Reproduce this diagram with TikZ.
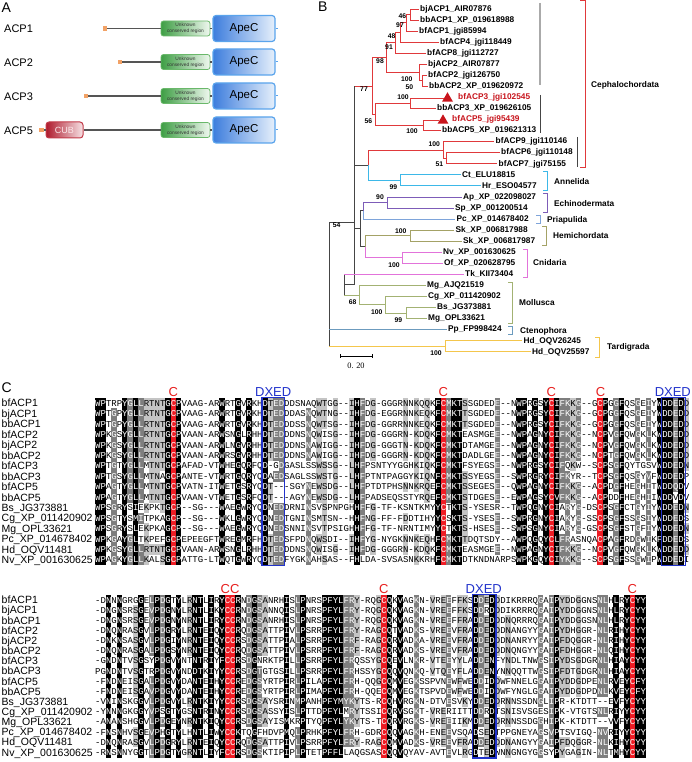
\documentclass[tikz,border=0pt]{standalone}
\usepackage{fontspec}
\setmainfont{Liberation Sans}
\newfontfamily\seqfont{Liberation Mono}
\newfontfamily\serfont{Liberation Serif}
\usetikzlibrary{shapes.geometric,shadings}

\definecolor{cephred}{HTML}{E0393B}
\definecolor{trired}{HTML}{C8141C}
\definecolor{annc}{HTML}{3DB8E8}
\definecolor{echc}{HTML}{7D5CB8}
\definecolor{pric}{HTML}{7EA4DA}
\definecolor{hemc}{HTML}{A4A266}
\definecolor{cnic}{HTML}{E273DA}
\definecolor{molc}{HTML}{A3B273}
\definecolor{ctec}{HTML}{6C9BBE}
\definecolor{tarc}{HTML}{F4C64C}
\definecolor{bbc}{HTML}{454545}
\definecolor{grayline}{HTML}{AAAAAA}
\definecolor{shadeA}{HTML}{C4C4C4}
\definecolor{shadeB}{HTML}{7E7E7E}
\definecolor{shadeR}{HTML}{EE1C24}
\definecolor{dxblue}{HTML}{2233CC}
\definecolor{credl}{HTML}{E8201F}
\definecolor{apeL}{HTML}{3D7DDD}
\definecolor{apeR}{HTML}{E6F0FB}
\definecolor{apeB}{HTML}{5AA4EC}
\definecolor{grnL}{HTML}{3E9E44}
\definecolor{grnR}{HTML}{F0F8F0}
\definecolor{grnB}{HTML}{6AB86A}
\definecolor{cubL}{HTML}{AE1A2C}
\definecolor{cubR}{HTML}{F7E2E5}
\definecolor{cubB}{HTML}{C23A48}
\definecolor{cubT}{HTML}{FBE9EB}
\definecolor{orng}{HTML}{F2A266}
\definecolor{linec}{HTML}{555555}

\newcommand\alnh{10}
\newcommand\alncell[3]{\fill[#3] (#1,#2) rectangle ++(5.45,\alnh+0.1);}
\newcommand\alntext[3]{\node[seqtext] (#2) at (95,#1+\alnh/2+3) {#3};}

\ExplSyntaxOn
\intarray_new:Nn \g__aln_chars_intarray {2300}
\intarray_new:Nn \g__aln_mchar_intarray {140}
\intarray_new:Nn \g__aln_mcnt_intarray {140}
\intarray_new:Nn \g__aln_red_intarray {140}
\int_new:N \g__aln_nrows_int
\int_new:N \g__aln_len_int
\int_new:N \l__aln_j_int
\int_new:N \l__aln_k_int
\int_new:N \l__aln_cnt_int
\int_new:N \l__aln_best_int
\int_new:N \l__aln_bestc_int
\int_new:N \l__aln_lvl_int
\int_new:N \l__aln_row_int
\tl_new:N \l__aln_row_tl
\tl_new:N \l__aln_prefix_tl
\seq_new:N \g__aln_rows_seq

\cs_new:Npn \__aln_idx:nn #1#2 { ( ( #1 ) - 1 ) * 140 + ( #2 ) }
\cs_new:Npn \__aln_grp:n #1
  {
    \int_case:nnF { #1 }
      {
        { `N } { `D }
        { `Q } { `E }
        { `T } { `S }
        { `R } { `K }
        { `Y } { `F }
        { `W } { `F }
        { `I } { `L }
        { `V } { `L }
        { `M } { `L }
      }
      { #1 }
  }

\cs_new_protected:Npn \__aln_store:n #1
  {
    \int_gincr:N \g__aln_nrows_int
    \int_zero:N \l__aln_j_int
    \tl_map_inline:nn {#1}
      {
        \int_incr:N \l__aln_j_int
        \intarray_gset:Nnn \g__aln_chars_intarray
          { \__aln_idx:nn { \g__aln_nrows_int } { \l__aln_j_int } } { \__aln_grp:n { `##1 } }
      }
    \int_compare:nNnT { \l__aln_j_int } > { \g__aln_len_int }
      { \int_gset_eq:NN \g__aln_len_int \l__aln_j_int }
  }

\cs_new_protected:Npn \__aln_mode:n #1
  {
    \int_zero:N \l__aln_best_int
    \int_zero:N \l__aln_bestc_int
    \int_step_inline:nn { \g__aln_nrows_int }
      {
        \int_set:Nn \l__aln_k_int
          { \intarray_item:Nn \g__aln_chars_intarray { \__aln_idx:nn {##1} {#1} } }
        \bool_lazy_or:nnF
          { \int_compare_p:nNn { \l__aln_k_int } = { `- } }
          { \int_compare_p:nNn { \l__aln_k_int } = { 0 } }
          {
            \int_zero:N \l__aln_cnt_int
            \int_step_inline:nn { \g__aln_nrows_int }
              {
                \int_compare:nNnT
                  { \intarray_item:Nn \g__aln_chars_intarray { \__aln_idx:nn {####1} {#1} } }
                  = { \l__aln_k_int }
                  { \int_incr:N \l__aln_cnt_int }
              }
            \int_compare:nNnT { \l__aln_cnt_int } > { \l__aln_best_int }
              {
                \int_set_eq:NN \l__aln_best_int \l__aln_cnt_int
                \int_set_eq:NN \l__aln_bestc_int \l__aln_k_int
              }
          }
      }
    \intarray_gset:Nnn \g__aln_mchar_intarray {#1} { \l__aln_bestc_int }
    \intarray_gset:Nnn \g__aln_mcnt_intarray {#1} { \l__aln_best_int }
  }

\cs_new_protected:Npn \__aln_level:nn #1#2
  {
    \int_set:Nn \l__aln_k_int
      { \intarray_item:Nn \g__aln_chars_intarray { \__aln_idx:nn {#1} {#2} } }
    \int_zero:N \l__aln_lvl_int
    \int_compare:nNnTF { \intarray_item:Nn \g__aln_red_intarray {#2} } = { 1 }
      { \int_set:Nn \l__aln_lvl_int { 4 } }
      {
        \int_compare:nNnT { \l__aln_k_int } = { \intarray_item:Nn \g__aln_mchar_intarray {#2} }
          {
            \int_set:Nn \l__aln_cnt_int { \intarray_item:Nn \g__aln_mcnt_intarray {#2} }
            \int_compare:nNnTF { \l__aln_cnt_int } = { \g__aln_nrows_int }
              { \int_set:Nn \l__aln_lvl_int { 3 } }
              {
                \int_compare:nNnTF { 5 * \l__aln_cnt_int } < { 4 * \g__aln_nrows_int }
                  {
                    \int_compare:nNnF { 5 * \l__aln_cnt_int } < { 3 * \g__aln_nrows_int }
                      { \int_set:Nn \l__aln_lvl_int { 1 } }
                  }
                  { \int_set:Nn \l__aln_lvl_int { 2 } }
              }
          }
      }
  }

\cs_new_protected:Npn \__aln_row:nnn #1#2#3
  {
    \tl_clear:N \l__aln_row_tl
    \int_zero:N \l__aln_j_int
    \tl_map_inline:nn {#3}
      {
        \int_incr:N \l__aln_j_int
        \__aln_level:nn {#1} { \l__aln_j_int }
        \int_compare:nNnTF { \l__aln_lvl_int } > { 0 }
          {
            \use:e
              {
                \exp_not:N \alncell
                  { \fp_eval:n { 95 + 5.4 * ( \l__aln_j_int - 1 ) } }
                  { \fp_eval:n {#2} }
                  {
                    \int_case:nn { \l__aln_lvl_int }
                      { {1}{shadeA} {2}{shadeB} {3}{black} {4}{shadeR} }
                  }
              }
            \int_compare:nNnTF { \l__aln_lvl_int } > { 1 }
              { \tl_put_right:Nn \l__aln_row_tl { \textcolor{white}{##1} } }
              { \tl_put_right:Nn \l__aln_row_tl {##1} }
          }
          { \tl_put_right:Nn \l__aln_row_tl {##1} }
      }
    \use:e
      {
        \exp_not:N \alntext { \fp_eval:n {#2} }
          { \l__aln_prefix_tl \int_use:N \l__aln_row_int }
      }
      { \l__aln_row_tl }
  }

\cs_new_protected:Npn \aln_block:nnnnn #1#2#3#4#5
  {
    \intarray_gzero:N \g__aln_chars_intarray
    \intarray_gzero:N \g__aln_red_intarray
    \int_gzero:N \g__aln_nrows_int
    \int_gzero:N \g__aln_len_int
    \tl_set:Nn \l__aln_prefix_tl {#4}
    \clist_map_inline:nn {#3} { \intarray_gset:Nnn \g__aln_red_intarray {##1} { 1 } }
    \seq_gset_from_clist:Nn \g__aln_rows_seq {#5}
    \seq_map_function:NN \g__aln_rows_seq \__aln_store:n
    \int_step_function:nN { \g__aln_len_int } \__aln_mode:n
    \int_zero:N \l__aln_row_int
    \seq_map_inline:Nn \g__aln_rows_seq
      {
        \int_incr:N \l__aln_row_int
        \__aln_row:nnn
          { \int_use:N \l__aln_row_int }
          { \fp_eval:n { #1 + ( \l__aln_row_int - 1 ) * #2 } }
          {##1}
      }
  }
\cs_new_eq:NN \alnblock \aln_block:nnnnn
\ExplSyntaxOff

\tikzset{
  plab/.style={anchor=west, inner sep=0, font=\fontsize{14}{14}\selectfont},
  acpl/.style={anchor=west, inner sep=0, font=\fontsize{11}{11}\selectfont},
  apec/.style={draw=apeB, line width=1.2pt, rounded corners=3pt, left color=apeL, right color=apeR,
    minimum width=62pt, minimum height=26pt, inner sep=0, font=\fontsize{11.5}{11.5}\selectfont},
  ucr/.style={draw=grnB, line width=0.8pt, rounded corners=2.5pt, left color=grnL, right color=grnR,
    minimum width=49pt, minimum height=15pt, inner sep=0, align=center,
    font=\fontsize{4.8}{5.6}\selectfont, text=black!80},
  cubbox/.style={draw=cubB, line width=1pt, rounded corners=3pt, left color=cubL, right color=cubR,
    minimum width=37pt, minimum height=16pt, inner sep=0, font=\fontsize{9}{9}\selectfont, text=cubT},
  nterm/.style={fill=orng, minimum size=4.5pt, inner sep=0},
  dline/.style={draw=linec, line width=1.3pt},
  leaf/.style={anchor=west, inner xsep=1.5pt, inner ysep=0, font=\bfseries\fontsize{8.3}{8.3}\selectfont,
    text height=6pt, text depth=1.6pt},
  rleaf/.style={leaf, text=trired},
  tri/.style={regular polygon, regular polygon sides=3, fill=trired, minimum size=12.5pt, inner sep=0, outer sep=0},
  bs/.style={inner sep=0, font=\bfseries\fontsize{6.8}{6.8}\selectfont},
  clab/.style={anchor=west, inner sep=0, font=\bfseries\fontsize{8.3}{8.3}\selectfont},
  tline/.style={line width=0.95pt},
  rl/.style={tline, draw=cephred},
  al/.style={tline, draw=annc},
  el/.style={tline, draw=echc},
  pl/.style={tline, draw=pric},
  hl/.style={tline, draw=hemc},
  cl/.style={tline, draw=cnic},
  ml/.style={tline, draw=molc},
  ctl/.style={tline, draw=ctec},
  tal/.style={tline, draw=tarc},
  bl/.style={tline, draw=bbc},
  brk/.style={line width=1pt},
  seqtext/.style={anchor=base west, inner sep=0, font=\seqfont\fontsize{9}{9}\selectfont},
  nm/.style={anchor=base west, inner sep=0, font=\fontsize{10.5}{10.5}\selectfont},
  motc/.style={anchor=base, inner sep=0, font=\fontsize{13}{13}\selectfont, text=credl},
  motd/.style={anchor=base, inner sep=0, font=\fontsize{13}{13}\selectfont, text=dxblue},
  dxbox/.style={draw=dxblue, line width=1.3pt},
}

\begin{document}
\begin{tikzpicture}[x=1pt,y=-1pt]
\useasboundingbox (0,0) rectangle (692,762);
\fill[white] (0,0) rectangle (692,762);

% ---------------- Panel A ----------------
\node[plab] (labA) at (1.5,8) {A};
\node[acpl] (a1) at (4,29) {ACP1};
\node[acpl] (a2) at (4,63) {ACP2};
\node[acpl] (a3) at (4,97) {ACP3};
\node[acpl] (a4) at (4,131) {ACP5};

\node[nterm] (s1) at (105,28.5) {};
\node[nterm] (s2) at (120,62) {};
\node[nterm] (s3) at (86,96) {};
\node[nterm] (s4) at (41.5,130) {};
\node[cubbox] (c4) at (64.5,130) {CUB};

\foreach \i/\y in {1/28.5,2/62,3/96,4/130}{
  \node[ucr] (u\i) at (185.5,\y) {Unknown\\conserved region};
  \node[apec] (p\i) at (244,\y) {ApeC};
  \coordinate (e\i) at (278,\y);
}
\draw[dline] (s1) -- (u1);
\draw[dline] (s2) -- (u2);
\draw[dline] (s3) -- (u3);
\draw[dline] (s4) -- (c4);
\draw[dline] (c4) -- (u4);
\foreach \i in {1,2,3,4}{
  \draw[dline] (u\i) -- (p\i);
  \draw[dline, line width=1pt, draw=apeB] (p\i) -- (e\i);
}

% ---------------- Panel B ----------------
\node[plab] (labB) at (318,7) {B};

\node[leaf] (L0) at (418.5,9) {bjACP1\_AIR07876};
\node[leaf] (L1) at (418.5,20.06) {bbACP1\_XP\_019618988};
\node[leaf] (L2) at (417.5,31.12) {bfACP1\_jgi85994};
\node[leaf] (L3) at (438.5,42.18) {bfACP4\_jgi118449};
\node[leaf] (L4) at (425.5,53.24) {bfACP8\_jgi112727};
\node[leaf] (L5) at (426.5,64.3) {bjACP2\_AIR07877};
\node[leaf] (L6) at (426.5,75.36) {bfACP2\_jgi126750};
\node[leaf] (L7) at (427.5,86.42) {bbACP2\_XP\_019620972};
\node[tri] (T8) at (447.5,98.5) {};
\node[rleaf] (L8) at (456.5,97.48) {bfACP3\_jgi102545};
\node[leaf] (L9) at (435.5,108.54) {bbACP3\_XP\_019626105};
\node[tri] (T10) at (443,120.6) {};
\node[rleaf] (L10) at (450.5,119.6) {bfACP5\_jgi95439};
\node[leaf] (L11) at (440.5,130.66) {bbACP5\_XP\_019621313};
\node[leaf] (L12) at (494,141.72) {bfACP9\_jgi110146};
\node[leaf] (L13) at (499.5,152.78) {bfACP6\_jgi110148};
\node[leaf] (L14) at (497,163.84) {bfACP7\_jgi75155};
\node[leaf] (L15) at (460.5,174.9) {Ct\_ELU18815};
\node[leaf] (L16) at (480.5,185.96) {Hr\_ESO04577};
\node[leaf] (L17) at (461.5,197.02) {Ap\_XP\_022098027};
\node[leaf] (L18) at (453.5,208.08) {Sp\_XP\_001200514};
\node[leaf] (L19) at (455,219.14) {Pc\_XP\_014678402};
\node[leaf] (L20) at (454,230.2) {Sk\_XP\_006817988};
\node[leaf] (L21) at (461.5,241.26) {Sk\_XP\_006817987};
\node[leaf] (L22) at (441.5,252.32) {Nv\_XP\_001630625};
\node[leaf] (L23) at (442.5,263.38) {Of\_XP\_020628795};
\node[leaf] (L24) at (463.5,274.44) {Tk\_KII73404};
\node[leaf] (L25) at (425.5,285.5) {Mg\_AJQ21519};
\node[leaf] (L26) at (426.5,296.56) {Cg\_XP\_011420902};
\node[leaf] (L27) at (435.5,307.62) {Bs\_JG373881};
\node[leaf] (L28) at (426.5,318.68) {Mg\_OPL33621};
\node[leaf] (L29) at (446.5,329.74) {Pp\_FP998424};
\node[leaf] (L30) at (522,340.8) {Hd\_OQV26245};
\node[leaf] (L31) at (530.5,351.86) {Hd\_OQV25597};

\coordinate (n46) at (410,14.53);
\coordinate (n97) at (406,22.8);
\coordinate (n48) at (400,32.5);
\coordinate (n91) at (395,42.9);
\coordinate (nA2b) at (422,80.9);
\coordinate (nA2) at (419,72.6);
\coordinate (n98) at (386.7,57.7);
\coordinate (n3) at (410,103.5);
\coordinate (n5) at (423,125.6);
\coordinate (n56) at (375,114.5);
\coordinate (n77) at (372,86.1);
\coordinate (n51) at (446.7,158.3);
\coordinate (n9) at (443,150);
\coordinate (nAnn) at (400,180.4);
\coordinate (nX) at (368,165.2);
\coordinate (n90) at (387,202.5);
\coordinate (nEP) at (363.3,210.8);
\coordinate (nSk) at (410,235.7);
\coordinate (nCn) at (402.7,257.85);
\coordinate (nHC) at (365,246.8);
\coordinate (nDeut) at (360,228.8);
\coordinate (n99) at (406,313.15);
\coordinate (n100m) at (385,304.9);
\coordinate (n68) at (359,295.2);
\coordinate (nTMt) at (344,274.44);
\coordinate (nTM) at (344,284.8);
\coordinate (nTMb) at (344,295.2);
\coordinate (nHd) at (445,346.3);
\coordinate (bbTop) at (354,86.1);
\coordinate (bbX) at (354,165.2);
\coordinate (bbR) at (354,222);
\coordinate (bbD) at (354,228.8);
\coordinate (bbBot) at (354,284.8);
\coordinate (rTop) at (329,222);
\coordinate (rPp) at (329,329.74);
\coordinate (rBot) at (329,346.3);

% cephalochordata
\draw[rl] (n46) |- (L0.west);
\draw[rl] (n46) |- (L1.west);
\draw[rl] (n97) |- (n46);
\draw[rl] (n97) |- (L2.west);
\draw[rl] (n48) |- (n97);
\draw[rl] (n48) |- (L3.west);
\draw[rl] (n91) |- (n48);
\draw[rl] (n91) |- (L4.west);
\draw[rl] (nA2b) |- (L6.west);
\draw[rl] (nA2b) |- (L7.west);
\draw[rl] (nA2) |- (L5.west);
\draw[rl] (nA2) |- (nA2b);
\draw[rl] (n98) |- (n91);
\draw[rl] (n98) |- (nA2);
\draw[rl] (n3) |- (T8.west);
\draw[rl] (n3) |- (L9.west);
\draw[rl] (n5) |- (T10.west);
\draw[rl] (n5) |- (L11.west);
\draw[rl] (n56) |- (n3);
\draw[rl] (n56) |- (n5);
\draw[rl] (n77) |- (n98);
\draw[rl] (n77) |- (n56);
\draw[rl] (bbTop) -- (n77);
\draw[rl] (n51) |- (L13.west);
\draw[rl] (n51) |- (L14.west);
\draw[rl] (n9) |- (L12.west);
\draw[rl] (n9) |- (n51);
\draw[rl] (nX) |- (n9);
% annelida
\draw[al] (nX) |- (nAnn);
\draw[al] (nAnn) |- (L15.west);
\draw[al] (nAnn) |- (L16.west);
\draw[bl] (bbX) -- (nX);
% echinodermata, priapulida
\draw[el] (n90) |- (L17.west);
\draw[el] (n90) |- (L18.west);
\draw[el] (nEP) |- (n90);
\draw[pl] (nEP) |- (L19.west);
% hemichordata, cnidaria
\draw[hl] (nSk) |- (L20.west);
\draw[hl] (nSk) |- (L21.west);
\draw[hl] (nHC) |- (nSk);
\draw[cl] (nCn) |- (L22.west);
\draw[cl] (nCn) |- (L23.west);
\draw[cl] (nHC) |- (nCn);
\draw[bl] (nDeut) |- (nEP);
\draw[bl] (nDeut) |- (nHC);
\draw[bl] (bbD) -- (nDeut);
% backbone
\draw[bl] (bbTop) -- (bbBot);
\draw[bl] (rTop) -- (bbR);
\draw[bl] (bbBot) -- (nTM);
\draw[bl] (nTMt) -- (nTMb);
\draw[cl] (nTMt) -- (L24.west);
\draw[ml] (nTMb) -- (n68);
% mollusca
\draw[ml] (n68) |- (L25.west);
\draw[ml] (n68) |- (n100m);
\draw[ml] (n100m) |- (L26.west);
\draw[ml] (n100m) |- (n99);
\draw[ml] (n99) |- (L27.west);
\draw[ml] (n99) |- (L28.west);
% root
\draw[bl] (rTop) -- (rBot);
\draw[ctl] (rPp) -- (L29.west);
\draw[tal] (rBot) -- (nHd);
\draw[tal] (nHd) |- (L30.west);
\draw[tal] (nHd) |- (L31.west);

% bootstrap values
\node[bs] (b1) at (402.3,16) {46};
\node[bs] (b2) at (400,25) {97};
\node[bs] (b3) at (391.7,36) {48};
\node[bs] (b4) at (389,46.7) {91};
\node[bs] (b5) at (380,60.7) {98};
\node[bs] (b6) at (406.7,79.3) {100};
\node[bs] (b7) at (409.3,87.3) {50};
\node[bs] (b8) at (364,89.3) {77};
\node[bs] (b9) at (403,97.3) {100};
\node[bs] (b10) at (368.3,120.7) {56};
\node[bs] (b11) at (412,131.5) {100};
\node[bs] (b12) at (434.3,144.3) {100};
\node[bs] (b13) at (439.3,164.3) {51};
\node[bs] (b14) at (393.3,186.7) {99};
\node[bs] (b15) at (380,197.3) {90};
\node[bs] (b16) at (336.7,225) {54};
\node[bs] (b17) at (400.7,230.7) {100};
\node[bs] (b18) at (394,264.7) {100};
\node[bs] (b19) at (352.7,301.7) {68};
\node[bs] (b20) at (376.7,311.7) {100};
\node[bs] (b21) at (398.3,320) {99};
\node[bs] (b22) at (436,353.3) {100};

% brackets
\draw[grayline, line width=1.6pt] (540,3) -- (540,85);
\draw[bbc, brk] (540,95) -- (540,133);
\draw[bbc, brk] (577,137) -- (577,167);
\draw[cephred, brk] (580,0.8) -- (585,0.8) -- (585,168) -- (580,168);
\node[clab] (k1) at (591,85.5) {Cephalochordata};
\draw[annc, brk] (543,171.5) -- (547,171.5) -- (547,190) -- (543,190);
\node[clab] (k2) at (554,181.5) {Annelida};
\draw[echc, brk] (543,193.5) -- (547,193.5) -- (547,212) -- (543,212);
\node[clab] (k3) at (554,203.5) {Echinodermata};
\draw[pric, brk] (536,215) -- (540,215) -- (540,223) -- (536,223);
\node[clab] (k4) at (547,220) {Priapulida};
\draw[hemc, brk] (542,226) -- (546,226) -- (546,245) -- (542,245);
\node[clab] (k5) at (553,236) {Hemichordata};
\draw[cnic, brk] (523,249) -- (527,249) -- (527,277) -- (523,277);
\node[clab] (k6) at (533,263) {Cnidaria};
\draw[molc, brk] (508,282) -- (512,282) -- (512,323) -- (508,323);
\node[clab] (k7) at (519,303) {Mollusca};
\draw[ctec, brk] (508,326) -- (512,326) -- (512,334) -- (508,334);
\node[clab] (k8) at (520,331) {Ctenophora};
\draw[tarc, brk] (595,337) -- (599,337) -- (599,357) -- (595,357);
\node[clab] (k9) at (607,347) {Tardigrada};

% scale bar
\coordinate (sb1) at (340,356);
\coordinate (sb2) at (372.3,356);
\draw[line width=1pt] (sb1) -- (sb2);
\draw[line width=0.8pt] ([yshift=1.8pt]sb1) -- ([yshift=-1.8pt]sb1);
\draw[line width=0.8pt] ([yshift=1.8pt]sb2) -- ([yshift=-1.8pt]sb2);
\node[inner sep=0, font=\serfont\fontsize{8.3}{8.3}\selectfont] (sbl) at (356,366) {0. 20};

% ---------------- Panel C ----------------
\node[plab] (labC) at (1.5,388) {C};

\renewcommand\alnh{10.45}
\alnblock{398}{10.45}{15,65,85,94}{sA}{
WPTRPYGLLRTNTGCPVAAG-ARWRTGVRKHDTEDDDSNAQWTGG--IHFDG-GGGRNNKQQKFCMKTSSGDEDE--NWPRGSYCIFKKG--GCPGGFQSGEIYWDDEDD,
WPTGPYGLLRTNTGCPVAAG-ARWRTGVRKHDTEDDDASNQWTNG--IHFDG-EGGRNNKEQKFCMKTTSGDEDE--NWPRGSYCIFKKG--GCPGGFQSGEIYWDDEDD,
WPTGPYGLLRTNTGCPVAAG-ARWRTGVRKHDTEDDDSSNQWTSG--IHFDG-GGRRNNKEQKFCMKTTSGDEDE--NWPRGSYCIFKKG--GCPGGFQSGEIYWDDEDD,
WPKGSYGLLRTNTGCPVAAN-ARWSNGLRHHDTEDDDNSNQWISG--IHFDG-GGGRN-KDQKFCMKTEASMGEE--NWPAGNYCIFKKG--NCPVGFQWGKLKWDDEDD,
WPKGSYGLLRTNTGCPVAAN-ARWLNGVRHHDTEDDDNSNAWIGG--IHFDG-GGGTN-KDQKFCMKTDTAMGEE--NWPAGNYCIFKKG--NCPVGFQWGKLKWDDEDD,
WPKGSYGLLRTNTGCPVAAN-ARWRSGVRHHDTEDDDNSNAWIGG--IHFDG-GGGRN-KDQKFCMKTDADLGEE--NWPAGNYCIFKKG--NCPTGFQWGKLKWDDEDD,
WPTGTYGLLMTNTGCPAFAD-VTWHEGQRFQD-GDGASLSSWSSG--LHFPSNTYYGGHKIQKFCMKTFSYEGSE--NWPRGSYCIFQKW--SCPSGFQYTGSVWDDEDN,
WPTGSYGLLMTNAGCPANTE-VTWRTGQRYQDAEDSAGLSSWSTG--LHFPTNTPAGGYKIQNFCMKTSSYEGSE--SWPRGRYCIFKYR--TCPSGFQSGYVFWDDEDP,
WPAGTYGLLMTNTGCPVATN-ITWETGSRYQDT---SGYNEWSDG--LHFPTDTPHSNNKRQEFCMKTSSEGESE--QWPAGNYCIFKKG--ACPDGFHEGHITWDDQDV,
WPAGTYGLLMTNTGCPVAAN-VTWETGSRFQDT---AGYNEWSDG--LHFPADSEQSSTYRQEFCMKTSTDGESE--EWPAGSYCVFKKG--ACPDDFHEGHIIWDDVDV,
WPSGRYSIEKPKTGCP--SG---WAEGWRYQDNEDDRNINSVSPNPGHHFFG-TF-KSNTKMYYCTKTS-YSESR--TWPQGNYCIARYG-DSCPSGFCTGYIYWDDEDN,
WPSGTYSMITPKAGCP--SG---WKLGWRYQDNEDTGNINSMTSN--HHFNG-FF-FDDTIHYYCSKTS-YSESE--SWPRGNYCIAKYG-SSCPSGFSSGSIYWDDEDS,
WPSGRYSLEKPKAGCP--SG---WAEGWRYQDNEDSNNINSVTPSIGHHFFG-TF-NRNTIMYYCTKTS-HSESE--SWPSGNYCIARYG-GSCPSGFSTGFIYWDDEDN,
WPKGAYGLTKPEFGCPEPEEGFTWREGMRFHDTEDSFPDNQWSDI--IHFYG-NYGKNNKEQHFCMKTTDQTSDY--AWPQGQYCLFRASNQACPAGFRDGWIKFDDEDS,
WPKGSYGLLRTNTGCPVAAN-ARWSNGLRHHDTEDDDNSNQWISG--IHFDG-GGGRN-KDQKFCMKTEASMGEE--NWPAGNYCIFKKG--NCPVGFQWGKLKWDDEDD,
WPAGKYGLLKALSGCPATTG-LTWQTGWRYQDTEDFYGKNAHSAS--FHLDA-SVSASNKKRHFCMKTDTKNDNARPSWPKGQYCIYKKG--SCPSGFSSGWIPWDDEDI}

\foreach \nmm [count=\i from 0] in {bfACP1,bjACP1,bbACP1,bfACP2,bjACP2,bbACP2,bfACP3,bbACP3,bfACP5,bbACP5,Bs\_JG373881,Cg\_XP\_011420902,Mg\_OPL33621,Pc\_XP\_014678402,Hd\_OQV11481,Nv\_XP\_001630625}{
  \node[nm] (na\i) at (1.5,{398+(\i+0.5)*10.45+3.75}) {\nmm};
}
\draw[dxbox] (261.9,397.5) rectangle (284.6,565.7);
\draw[dxbox] (661.5,397.5) rectangle (685.5,565.7);
\node[motc] (mc1) at (173.3,396.5) {C};
\node[motd] (md1) at (273.2,396.5) {DXED};
\node[motc] (mc2) at (443.3,396.5) {C};
\node[motc] (mc3) at (551.3,396.5) {C};
\node[motc] (mc4) at (600.5,396.5) {C};
\node[motd] (md2) at (672.8,396.5) {DXED};

\renewcommand\alnh{10.15}
\alnblock{595}{10.15}{25,26,54,100}{sB}{
-DNNNGRGGELPDGTYLRNTLIRYCCRNDGSANRHISLPNRSPFYLFRY-RQGCQKVAGKN-VREEFFKSDDEDDDIKRRRQGAIPYDDGGNSNLHLRYCYY,
-DNGNSRSGEVPDGNYLRNTLIKYCCRNDGSANNQISLPNRSPFYLFRY-RQGCQKVAGKN-VREEFFKSDDRDDDIKRRRQGAIPYDDGGNSNLHLRYCYY,
-DNGNSRSGEVPDGNYNRNTLIRYCCRNDGSANRHISLPNRSPFYLFRY-RQGCQKVAGKN-VREEFFRADDEDDDNQRRRQGAIPYDDGGSNNLHLRYCYY,
-DNQNRASGVLPDGRYLRNTEIQYCCRQDGSATTPIVLPSRRPFYLFRY-RAGCQTVADKS-VREEVFRADDEDDDNANGYYGAIPYDHGGR-NLRIHYCYY,
-DNKNSASGVLPDGIYNRNTEIQYCCRSDGSATTPIALPSRRPFYLFRF-RAGCQRVADKA-VREEVFRADDEDDDNANRYYGAIPFDQGGR-NLRIHYCYY,
-DNQNRASGALPDGSYNRNTEIQYCCRQDGSATTPIVLPSRRPFYLFRF-RAGCQRVADKS-VREEVFRADDEDDDNQNGYYGAIPFDHGGR-NLQIHYCYY,
-GNDNTVSGSYPDGVYNTNTRIYFCCRSDGNRKTPILLPSRRPFYLFRQSSYGCQEVLNKR-VTEEYYLADDENFYNDLTNWGSIPYDSGDGRNLHIAYCYY,
PGNDNTVSGTRPDGVYNDDTKIYYCCRSDGTGTGSILLPSRRPFYLFRHSSYGCQQVQNKQ-VTQEYFLADDENYNNQQTTWGSIPFDTGDGRNLHIAYCYY,
-FNDNEISGALPDGVYDANTEIHYCCREDGSYRTPIRLPILAPFYLFRH-QQGCQMVEGKSSPVNEWFWEDDIDDWFNNELGGAIPYDDGDPENLRVEYCFY,
-FNDNEISGAVPDGVYDANTEIHYCCREDGSYRTPIRLPIMAPFYLFRH-QQECQMVEGKTSPVDEWFWEDDIDDWFYNGLGGAIPYDDGDPDNLKVEYCFY,
-VNINSKGGVLPDGVYLRNTKIYYCCRSDGSAYSRINMPANHPFYMYKYTS-RCQHVRGKN-DTVESVKYDDEDDRNNSSDNGLIPR-KTDTT--EVFYCYY,
-YNNNGKGGYVPSGTYGSNTRINYCCRSDGSASSYISLPTTDPFYLMRYTSSICQRVSGKT-VRERIITTDDRDTSNISVSGESIPK-VTGTSNLRIYYCYY,
-ANANSHGGVLPDGEYNRNTKIQYCCRSDGSAYISMKRPTYQPFYLYKYTS-TCQRVRGKS-VREEIIKMDDEDDRNNSSDGGHIPK-KTDTT--VVFYCYY,
-FNSNHVSGEVPHGTYLHNTLIWYCCKTQGFHDVPMQLPRHKPFYLFRH-GDRCQQVAGKH-ENEEVSQADSEDTPPGNEYAGSVPTSVIGQ-NVRIYYCYY,
-DNQNRASGVLPDGRYLRNTEIQYCCRQDGSATTPIVLPSRRPFYLFRY-RAGCQMVADKS-VREEVFRADDEDDDNANGYYGAIPFDQGGR-NLKIHYCYY,
-RNSNNYGGTLPDGTYGRNTLIYFCCRSDGSKTIPIPLPTETPFFLLAQGSASCQQVQYAV-AVTEVLRGDTEDWNNGNGYGGSYPYGAGIN-NLTMHYCYY}

\foreach \nmm [count=\i from 0] in {bfACP1,bjACP1,bbACP1,bfACP2,bjACP2,bbACP2,bfACP3,bbACP3,bfACP5,bbACP5,Bs\_JG373881,Cg\_XP\_011420902,Mg\_OPL33621,Pc\_XP\_014678402,Hd\_OQV11481,Nv\_XP\_001630625}{
  \node[nm] (nb\i) at (1.5,{595+(\i+0.5)*10.15+3.75}) {\nmm};
}
\draw[dxbox] (472.5,594.5) rectangle (496,757.9);
\node[motc] (mc5) at (230,593) {CC};
\node[motc] (mc6) at (383.9,593) {C};
\node[motd] (md3) at (483.8,593) {DXED};
\node[motc] (mc7) at (632.3,593) {C};
\end{tikzpicture}
\end{document}
